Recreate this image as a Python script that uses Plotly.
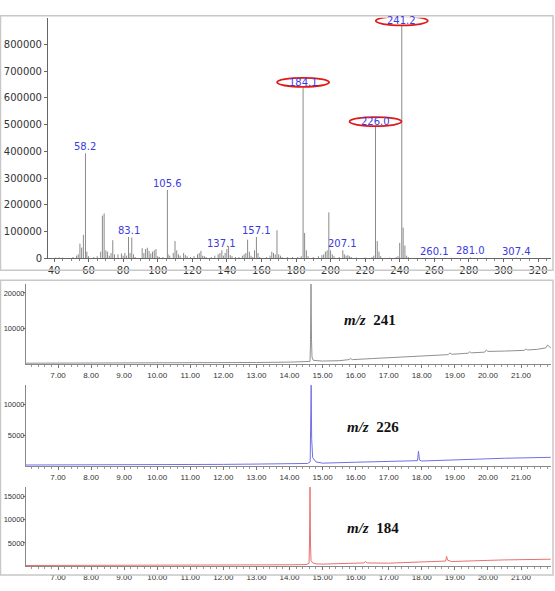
import plotly.graph_objects as go

# ---------------- data ----------------
# mass spectrum: m/z and abundance
mz = [41, 43, 45, 51, 53, 54, 55, 56, 57, 58.2, 59, 60, 63, 65, 67, 68, 69, 70, 71, 72, 73, 74, 75,
      77, 79, 80, 81, 82, 83.1, 84, 85, 86, 87, 91, 92, 93, 94, 95, 96, 97, 98, 99, 100, 101, 103,
      105.6, 106, 107, 109, 110, 111, 112, 113, 115, 116, 117, 119, 121, 123, 124, 125, 126, 127,
      128, 131, 133, 135, 136, 137.1, 138, 139, 140, 141, 142, 143, 145, 147, 149, 150, 151, 152,
      153, 154, 155, 156, 157.1, 158, 159, 163, 165, 166, 167, 168, 169, 170, 171, 172, 175, 178,
      181, 183, 184.1, 185, 186, 187, 190, 193, 195, 196, 197, 198, 199, 200, 201, 202, 205,
      207.1, 208, 209, 210, 211, 212, 215, 220, 224, 225, 226.0, 227, 228, 229, 234, 238, 239,
      240, 241.2, 242, 243, 244, 245, 250, 255, 260.1, 266, 270, 281.0, 290, 307.4]
abund = [3000, 4000, 3000, 5000, 10000, 15000, 55000, 40000, 88000, 393000, 25000, 8000, 5000,
         8000, 25000, 160000, 168000, 30000, 25000, 10000, 20000, 68000, 15000,
         15000, 18000, 10000, 20000, 10000, 80000, 20000, 78000, 15000, 5000, 38000, 20000,
         35000, 40000, 28000, 18000, 25000, 30000, 35000, 8000, 5000, 5000,
         256000, 15000, 10000, 20000, 65000, 30000, 15000, 10000, 20000, 12000, 8000, 5000,
         8000, 15000, 20000, 28000, 10000, 8000,
         5000, 5000, 10000, 15000, 20000, 30000, 10000, 20000, 35000, 45000, 12000, 8000, 5000,
         5000, 10000, 15000, 20000, 70000,
         25000, 10000, 5000, 30000, 80000, 20000, 5000, 5000, 10000, 25000, 20000, 15000, 105000,
         15000, 10000, 5000, 5000, 5000,
         5000, 8000, 640000, 95000, 30000, 8000, 5000, 8000, 12000, 15000, 25000, 30000, 172000,
         30000, 15000, 8000, 5000,
         30000, 15000, 10000, 12000, 8000, 5000, 3000, 3000, 5000, 10000, 493000, 65000, 25000,
         8000, 3000, 5000, 8000,
         58000, 870000, 115000, 48000, 10000, 5000, 2000, 2000, 3000, 2000, 2000, 4000, 2000, 3000]
labeled = [58.2, 83.1, 105.6, 137.1, 157.1, 207.1, 260.1, 281.0, 307.4]
circled = [184.1, 226.0, 241.2]

mz_ticks = list(range(40, 321, 20))
ms_yticks = list(range(0, 800001, 100000))

# chromatograms (time in min, abundance)
t241 = [6.03, 7.0, 8.0, 9.0, 10.0, 11.0, 12.0, 13.0, 14.0, 14.5, 14.62, 14.635, 14.65, 14.665,
        14.68, 14.72, 15.0, 15.5, 15.8, 15.85, 15.9, 16.5, 17.0, 17.5, 18.0, 18.5, 18.8, 18.85, 18.9,
        19.4, 19.45, 19.5, 19.9, 19.95, 20.0, 20.5, 21.1, 21.15, 21.2, 21.5, 21.75, 21.8, 21.85, 21.9]
i241 = [300, 300, 350, 350, 400, 400, 450, 500, 600, 650, 800, 6000, 22500, 7000, 2000,
        1100, 900, 1000, 1300, 1600, 1300, 1600, 1800, 2000, 2300, 2500, 2700, 3200, 2800,
        3100, 3500, 3200, 3400, 4000, 3600, 3700, 3900, 4300, 4000, 4200, 4600, 5400, 5000, 4600]

t226 = [6.03, 7.0, 8.0, 9.0, 10.0, 11.0, 12.0, 13.0, 14.0, 14.55, 14.625, 14.64, 14.655, 14.67,
        14.7, 14.8, 15.0, 16.0, 17.0, 17.5, 17.87, 17.9, 17.93, 18.0, 18.5, 19.0, 19.5, 20.0, 20.5,
        21.0, 21.5, 21.9]
i226 = [200, 200, 250, 250, 250, 300, 300, 350, 400, 450, 700, 5000, 13200, 4500, 1400,
        700, 500, 650, 750, 800, 900, 2450, 1000, 850, 950, 1100, 1200, 1250, 1300, 1350, 1400, 1450]

t184 = [6.03, 7.0, 8.0, 9.0, 10.0, 11.0, 12.0, 13.0, 14.0, 14.5, 14.59, 14.605, 14.62, 14.635,
        14.65, 14.7, 14.8, 15.0, 15.5, 16.0, 16.25, 16.3, 16.35, 17.0, 17.5, 18.0, 18.5, 18.72,
        18.75, 18.78, 18.9, 19.5, 20.0, 20.5, 21.0, 21.5, 21.9]
i184 = [150, 150, 200, 200, 200, 250, 250, 300, 300, 350, 600, 5000, 17000, 5000, 1200,
        700, 500, 450, 500, 600, 700, 1000, 700, 650, 750, 850, 950, 1100, 2100, 1300, 1000,
        1050, 1250, 1350, 1400, 1450, 1500]

time_ticks = [7, 8, 9, 10, 11, 12, 13, 14, 15, 16, 17, 18, 19, 20, 21]
time_labels = ["%.2f" % t for t in time_ticks]
chrom_labels = ["241", "226", "184"]

# ---------------- figure ----------------
W, H = 555, 591


def py(px):
    return 1 - px / H


fig = go.Figure()

# stick spectrum
sx, sy = [], []
for m, a in zip(mz, abund):
    sx += [m, m, None]
    sy += [0, a, None]
fig.add_trace(go.Scatter(x=sx, y=sy, mode="lines", line=dict(color="#8a8a8a", width=1),
                         xaxis="x", yaxis="y", hoverinfo="skip", showlegend=False))

chroms = [(t241, i241, "#909090", "x2", "y2"),
          (t226, i226, "#7070e6", "x3", "y3"),
          (t184, i184, "#e87070", "x4", "y4")]
for t, i, c, xa, ya in chroms:
    fig.add_trace(go.Scatter(x=t, y=i, mode="lines", line=dict(color=c, width=1),
                             xaxis=xa, yaxis=ya, showlegend=False))

tick_font_top = dict(family="DejaVu Sans", size=10, color="#333333")
tick_font_bot = dict(family="Liberation Sans", size=8, color="#333333")
tick_font_boty = dict(family="Liberation Sans", size=7.5, color="#333333")

layout = dict(
    width=W, height=H, margin=dict(l=0, r=0, t=0, b=0), autosize=False,
    paper_bgcolor="white", plot_bgcolor="white",
    xaxis=dict(domain=[48 / W, 551 / W], range=[36.53, 327.52], tickvals=mz_ticks,
               ticks="outside", ticklen=3, tickcolor="#666", showline=True, linecolor="#666",
               showgrid=False, zeroline=False, tickfont=tick_font_top,
               minor=dict(dtick=5, ticks="outside", ticklen=2, tickcolor="#888"), anchor="y"),
    yaxis=dict(domain=[py(261), py(18)], range=[0, 900000], tickvals=ms_yticks,
               ticktext=[str(v) for v in ms_yticks],
               ticks="outside", ticklen=3, tickcolor="#666", showline=True, linecolor="#666",
               showgrid=False, zeroline=False, tickfont=tick_font_top, anchor="x"),
)
doms = [(287, 368, 22500, [10000, 20000]),
        (389, 471, 13226, [5000, 10000]),
        (492, 572, 17020, [5000, 10000, 15000])]
for k, (top, bot, ymax, yt) in enumerate(doms):
    n = k + 2
    layout["xaxis%d" % n] = dict(domain=[26 / W, 551 / W], range=[6.032, 21.907],
                                 tickvals=time_ticks, ticktext=time_labels,
                                 ticks="outside", ticklen=3, tickcolor="#777",
                                 showline=True, linecolor="#888", showgrid=False, zeroline=False,
                                 tickfont=tick_font_bot, anchor="y%d" % n,
                                 minor=dict(dtick=0.2, ticks="outside", ticklen=2, tickcolor="#999"))
    layout["yaxis%d" % n] = dict(domain=[py(bot), py(top)], range=[0, ymax], tickvals=yt,
                                 ticktext=[str(v) for v in yt], ticklabelstandoff=-3,
                                 ticks="outside", ticklen=2, tickcolor="#777",
                                 showline=True, linecolor="#888", showgrid=False, zeroline=False,
                                 tickfont=tick_font_boty, anchor="x%d" % n)
fig.update_layout(**layout)

# panel frames
shapes = [
    dict(type="rect", xref="paper", yref="paper", x0=0.5 / W, x1=553 / W, y0=py(273), y1=py(16),
         line=dict(color="#c8c8c8", width=1.5)),
    dict(type="rect", xref="paper", yref="paper", x0=0.5 / W, x1=553 / W, y0=py(581), y1=py(283),
         line=dict(color="#c8c8c8", width=1.5)),
]

annotations = []
lab_font = dict(family="DejaVu Sans", size=10, color="#3b3be0")
for m, a in zip(mz, abund):
    if m in labeled:
        annotations.append(dict(x=m, y=a, xref="x", yref="y", text="%.1f" % m, showarrow=False,
                                xanchor="center", yanchor="bottom", yshift=-1, font=lab_font))
    if m in circled:
        annotations.append(dict(x=m, y=a, xref="x", yref="y", text="%.1f" % m, showarrow=False,
                                xanchor="center", yanchor="middle", yshift=5, font=lab_font))
        shapes.append(dict(type="circle", xref="x", yref="y", xsizemode="pixel", ysizemode="pixel",
                           xanchor=m, yanchor=a, x0=-26, x1=26, y0=0.5, y1=9.5,
                           line=dict(color="#e01818", width=1.8)))

mz_pos = [(15.59, 12500, "x2", "y2"), (15.68, 6450, "x3", "y3"), (15.68, 8300, "x4", "y4")]
for (x, y, xa, ya), lab in zip(mz_pos, chrom_labels):
    annotations.append(dict(x=x, y=y, xref=xa, yref=ya, xanchor="left", yanchor="middle",
                            showarrow=False, text="<b><i>m/z</i></b>&nbsp;&nbsp;<b>%s</b>" % lab,
                            font=dict(family="Liberation Serif", size=15, color="#111")))

fig.update_layout(shapes=shapes, annotations=annotations)
fig.write_html("out.html")
